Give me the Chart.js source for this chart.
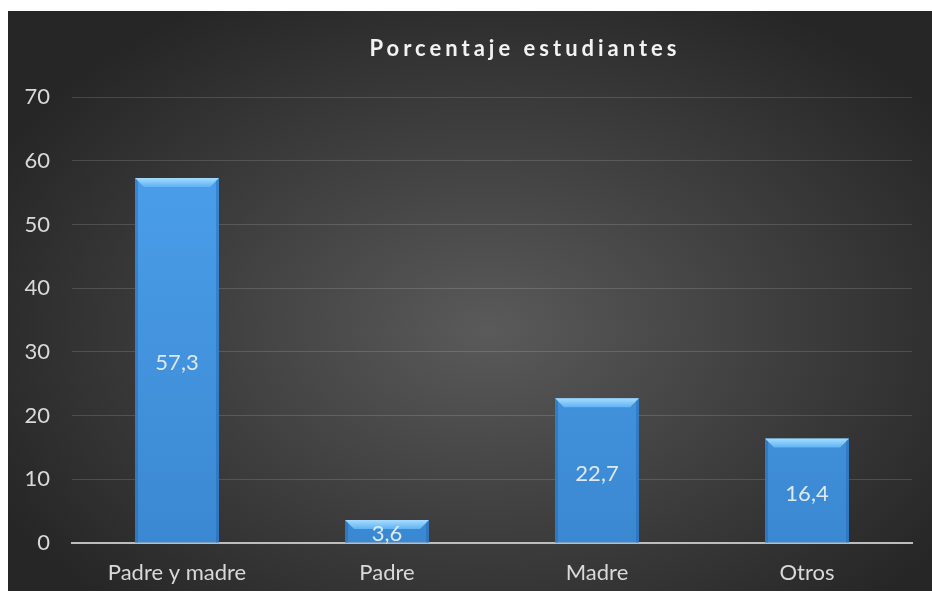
<!DOCTYPE html>
<html>
<head>
<meta charset="utf-8">
<script src="https://cdn.jsdelivr.net/npm/chart.js@4"></script>
<style>
  html, body { margin: 0; padding: 0; background: #fff; }
  #panel {
    position: absolute; left: 8px; top: 11px; width: 924px; height: 580px;
    background: radial-gradient(ellipse 60% 65% at 52% 55%, #5a5a5a 0%, #3d3d3d 55%, #262626 100%);
  }
</style>
</head>
<body>
<div id="panel"><canvas id="chart" width="924" height="580"></canvas></div>
<script>
const categories = ["Padre y madre", "Padre", "Madre", "Otros"];
const values = [57.3, 3.6, 22.7, 16.4];
const valueLabels = ["57,3", "3,6", "22,7", "16,4"];
const chartTitle = "Porcentaje estudiantes";

const FONT = "Lato, 'Open Sans', sans-serif";

// title drawn by hand so it can sit where the original one does, letter-spaced
const titlePlugin = {
  id: "spacedTitle",
  afterDraw(chart) {
    const ctx = chart.ctx;
    ctx.save();
    ctx.font = "bold 22px " + FONT;
    ctx.letterSpacing = "4px";
    ctx.fillStyle = "#f2f2f2";
    ctx.textAlign = "center";
    ctx.textBaseline = "middle";
    ctx.fillText(chartTitle, 517, 38);
    ctx.restore();
  }
};

// bevel on top of each bar + value label in the middle
const bevelPlugin = {
  id: "bevel",
  afterDatasetsDraw(chart) {
    const ctx = chart.ctx;
    const meta = chart.getDatasetMeta(0);
    meta.data.forEach((bar, i) => {
      const left = bar.x - bar.width / 2;
      const right = bar.x + bar.width / 2;
      const top = bar.y;
      const bottom = bar.base;
      const b = Math.min(9, (bottom - top) / 2);
      ctx.save();
      // top face
      const g = ctx.createLinearGradient(0, top, 0, top + b);
      g.addColorStop(0, "#a6dcfd");
      g.addColorStop(1, "#5eb3f5");
      ctx.fillStyle = g;
      ctx.beginPath();
      ctx.moveTo(left, top);
      ctx.lineTo(right, top);
      ctx.lineTo(right - b, top + b);
      ctx.lineTo(left + b, top + b);
      ctx.closePath();
      ctx.fill();
      // side edges
      ctx.fillStyle = "rgba(30,90,160,0.35)";
      ctx.beginPath();
      ctx.moveTo(left, top);
      ctx.lineTo(left + 3, top + 3);
      ctx.lineTo(left + 3, bottom);
      ctx.lineTo(left, bottom);
      ctx.closePath();
      ctx.fill();
      ctx.beginPath();
      ctx.moveTo(right, top);
      ctx.lineTo(right - 3, top + 3);
      ctx.lineTo(right - 3, bottom);
      ctx.lineTo(right, bottom);
      ctx.closePath();
      ctx.fill();
      // value label
      ctx.font = "22px " + FONT;
      ctx.fillStyle = "#dde9f5";
      ctx.textAlign = "center";
      ctx.textBaseline = "middle";
      ctx.fillText(valueLabels[i], bar.x, (top + bottom) / 2 + 3);
      ctx.restore();
    });
  }
};

new Chart(document.getElementById("chart").getContext("2d"), {
  type: "bar",
  data: {
    labels: categories,
    datasets: [{
      data: values,
      backgroundColor: (c) => {
        const area = c.chart.chartArea;
        if (!area) return "#4597e3";
        const g = c.chart.ctx.createLinearGradient(0, area.top, 0, area.bottom);
        g.addColorStop(0, "#4da2ee");
        g.addColorStop(1, "#3b88d2");
        return g;
      },
      borderWidth: 0,
      barPercentage: 0.4,
      categoryPercentage: 1.0
    }]
  },
  options: {
    responsive: false,
    animation: false,
    layout: { padding: { top: 86, right: 20, left: 0, bottom: 0 } },
    plugins: {
      legend: { display: false },
      tooltip: { enabled: false },
      title: { display: false }
    },
    scales: {
      x: {
        grid: { display: false, drawTicks: false },
        border: { display: true, color: "#bdbdbd", width: 2 },
        ticks: { color: "#d9d9d9", font: { family: FONT, size: 22 }, padding: 17 },
        afterFit(scale) { scale.height = 48; }
      },
      y: {
        min: 0,
        max: 70,
        ticks: { stepSize: 10, color: "#d9d9d9", font: { family: FONT, size: 22 }, padding: 22 },
        grid: { color: "rgba(255,255,255,0.14)", drawTicks: false },
        border: { display: false },
        afterFit(scale) { scale.width = 64; }
      }
    }
  },
  plugins: [titlePlugin, bevelPlugin]
});
</script>
</body>
</html>
